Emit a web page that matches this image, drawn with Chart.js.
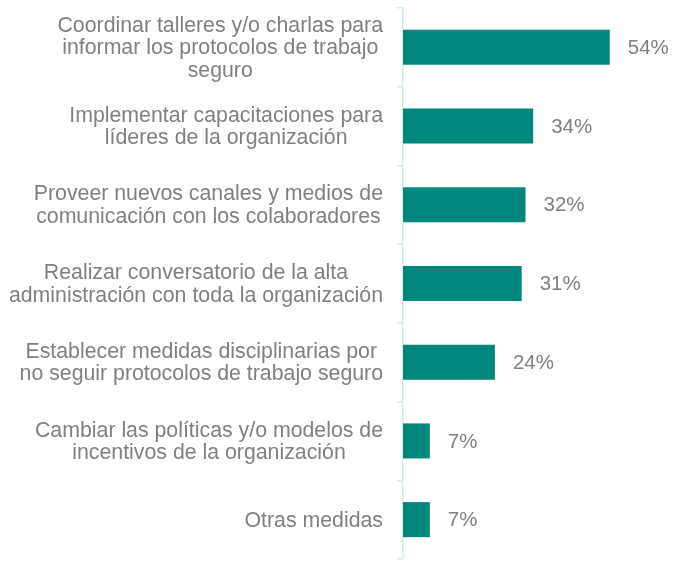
<!DOCTYPE html>
<html lang="es">
<head>
  <meta charset="utf-8">
  <title>Medidas</title>
  <script src="https://cdn.jsdelivr.net/npm/chart.js@4.4.3/dist/chart.umd.min.js"></script>
  <style>
    html, body { margin: 0; padding: 0; background: #fff; }
    .chart-box { width: 673px; height: 564px; }
  </style>
</head>
<body>
  <div class="chart-box">
    <canvas id="medidasChart"></canvas>
  </div>

  <script>
    const categories = [
      ["Coordinar talleres y/o charlas para", "informar los protocolos de trabajo", "seguro"],
      ["Implementar capacitaciones para", "líderes de la organización"],
      ["Proveer nuevos canales y medios de", "comunicación con los colaboradores"],
      ["Realizar conversatorio de la alta", "administración con toda la organización"],
      ["Establecer medidas disciplinarias por", "no seguir protocolos de trabajo seguro"],
      ["Cambiar las políticas y/o modelos de", "incentivos de la organización"],
      ["Otras medidas"]
    ];
    const values = [54, 34, 32, 31, 24, 7, 7];
    const valueLabels = ["54%", "34%", "32%", "31%", "24%", "7%", "7%"];

    const FONT = '"Liberation Sans", Arial, sans-serif';
    const GRAY = '#808080';
    const MINT = '#cdf3d8';

    // category labels: each block centred on itself, block right aligned
    const labelPlugin = {
      id: 'labelPlugin',
      afterDraw(chart) {
        const ctx = chart.ctx;
        const y = chart.scales.y;
        const rightEdge = 383;
        const lineH = 22.5;
        ctx.save();
        ctx.font = '21.3px ' + FONT;
        ctx.fillStyle = GRAY;
        ctx.textAlign = 'center';
        ctx.textBaseline = 'middle';
        categories.forEach((lines, i) => {
          const cy = y.getPixelForValue(i);
          const w = Math.max(...lines.map(l => ctx.measureText(l).width));
          const cx = rightEdge - w / 2;
          const top = cy - (lines.length - 1) * lineH / 2;
          lines.forEach((l, k) => ctx.fillText(l, cx, top + k * lineH + 1));
        });

        // value labels
        ctx.font = '20.5px ' + FONT;
        ctx.textAlign = 'left';
        const meta = chart.getDatasetMeta(0);
        meta.data.forEach((bar, i) => {
          ctx.fillText(valueLabels[i], bar.x + 18, bar.y + 1);
        });
        ctx.restore();
      }
    };

    new Chart(document.getElementById('medidasChart'), {
      type: 'bar',
      data: {
        labels: categories.map(c => c.join(' ')),
        datasets: [{
          data: values,
          backgroundColor: '#00877d',
          borderWidth: 0,
          categoryPercentage: 1,
          barPercentage: 0.445
        }]
      },
      options: {
        indexAxis: 'y',
        responsive: true,
        maintainAspectRatio: false,
        animation: false,
        layout: { padding: { top: 8, bottom: 5, left: 0, right: 2 } },
        plugins: {
          legend: { display: false },
          tooltip: { enabled: false }
        },
        scales: {
          x: {
            display: false,
            min: 0,
            max: 70
          },
          y: {
            position: 'left',
            ticks: { display: false },
            grid: {
              drawOnChartArea: false,
              color: MINT,
              tickLength: 6,
              lineWidth: 1.5,
              offset: true
            },
            border: { color: MINT, width: 1.5 },
            afterFit(scale) { scale.width = 403; }
          }
        }
      },
      plugins: [labelPlugin]
    });
  </script>
</body>
</html>
